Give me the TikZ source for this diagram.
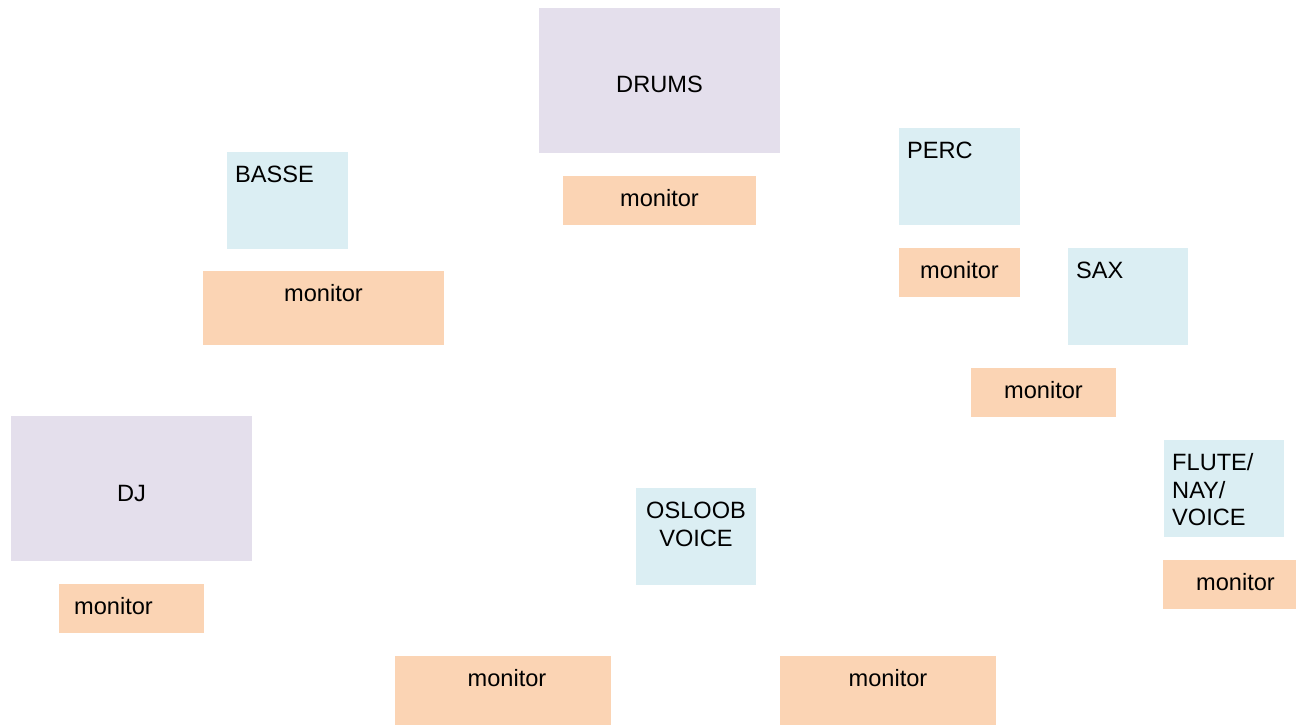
\documentclass[tikz,border=0pt]{standalone}
\usepackage{fontspec}
\setmainfont{Liberation Sans}
\usetikzlibrary{positioning}
\definecolor{stagelav}{HTML}{E4DFEC}
\definecolor{instblue}{HTML}{DBEEF3}
\definecolor{monpeach}{HTML}{FBD4B4}
\tikzstyle{area} = [fill=stagelav, anchor=north west, inner sep=0pt,
    minimum width=241pt, minimum height=145pt]
\tikzstyle{inst} = [fill=instblue, anchor=north west, inner sep=0pt,
    minimum width=121pt, minimum height=97pt]
\tikzstyle{mon} = [fill=monpeach, anchor=north west, inner sep=0pt,
    minimum height=49pt]
\tikzstyle{lbl} = [inner sep=0pt, font=\fontsize{23.6}{27.5}\selectfont]

\begin{document}
\begin{tikzpicture}[x=1pt, y=-1pt]
    \useasboundingbox (0,0) rectangle (1296,725);
    % stage areas
    \node[area] (drums) at (539,8) {};
    \node[area] (dj) at (11,416) {};
    % instruments
    \node[inst] (basse) at (227,152) {};
    \node[inst] (perc) at (899,128) {};
    \node[inst, minimum width=120pt] (sax) at (1068,248) {};
    \node[inst, minimum width=120pt] (flute) at (1164,440) {};
    \node[inst, minimum width=120pt] (voice) at (636,488) {};
    % monitors
    \node[mon, minimum width=193pt] (drumsmon) at (563,176) {};
    \node[mon, minimum width=241pt, minimum height=74pt] (bassemon) at (203,271) {};
    \node[mon, minimum width=121pt] (percmon) at (899,248) {};
    \node[mon, minimum width=145pt] (saxmon) at (971,368) {};
    \node[mon, minimum width=133pt] (flutemon) at (1163,560) {};
    \node[mon, minimum width=145pt] (djmon) at (59,584) {};
    \node[mon, minimum width=216pt, minimum height=69pt] (leftmon) at (395,656) {};
    \node[mon, minimum width=216pt, minimum height=69pt] (rightmon) at (780,656) {};

    % texts
    \node[lbl, anchor=base] (drumsT) at (659.5,92.5) {DRUMS};
    \node[lbl, anchor=base] (djT) at (131.5,501.5) {DJ};
    \node[lbl, anchor=base west] (basseT) at (235,182.5) {BASSE};
    \node[lbl, anchor=base west] (percT) at (907,158.5) {PERC};
    \node[lbl, anchor=base west] (saxT) at (1076,278.5) {SAX};
    \node[lbl, anchor=base west, align=left] (fluteT) at (1172,525.5) {FLUTE/\\NAY/\\VOICE};
    \node[lbl, anchor=base, align=center] (voiceT) at (696,546) {OSLOOB\\VOICE};
    \node[lbl, anchor=base] (drumsmonT) at (659.5,206.5) {monitor};
    \node[lbl, anchor=base] (bassemonT) at (323.5,301.5) {monitor};
    \node[lbl, anchor=base] (percmonT) at (959.5,278.5) {monitor};
    \node[lbl, anchor=base] (saxmonT) at (1043.5,398.5) {monitor};
    \node[lbl, anchor=base] (flutemonT) at (1235.5,590.5) {monitor};
    \node[lbl, anchor=base] (djmonT) at (113.5,614.5) {monitor};
    \node[lbl, anchor=base] (leftmonT) at (507,686.5) {monitor};
    \node[lbl, anchor=base] (rightmonT) at (888,686.5) {monitor};
\end{tikzpicture}
\end{document}
